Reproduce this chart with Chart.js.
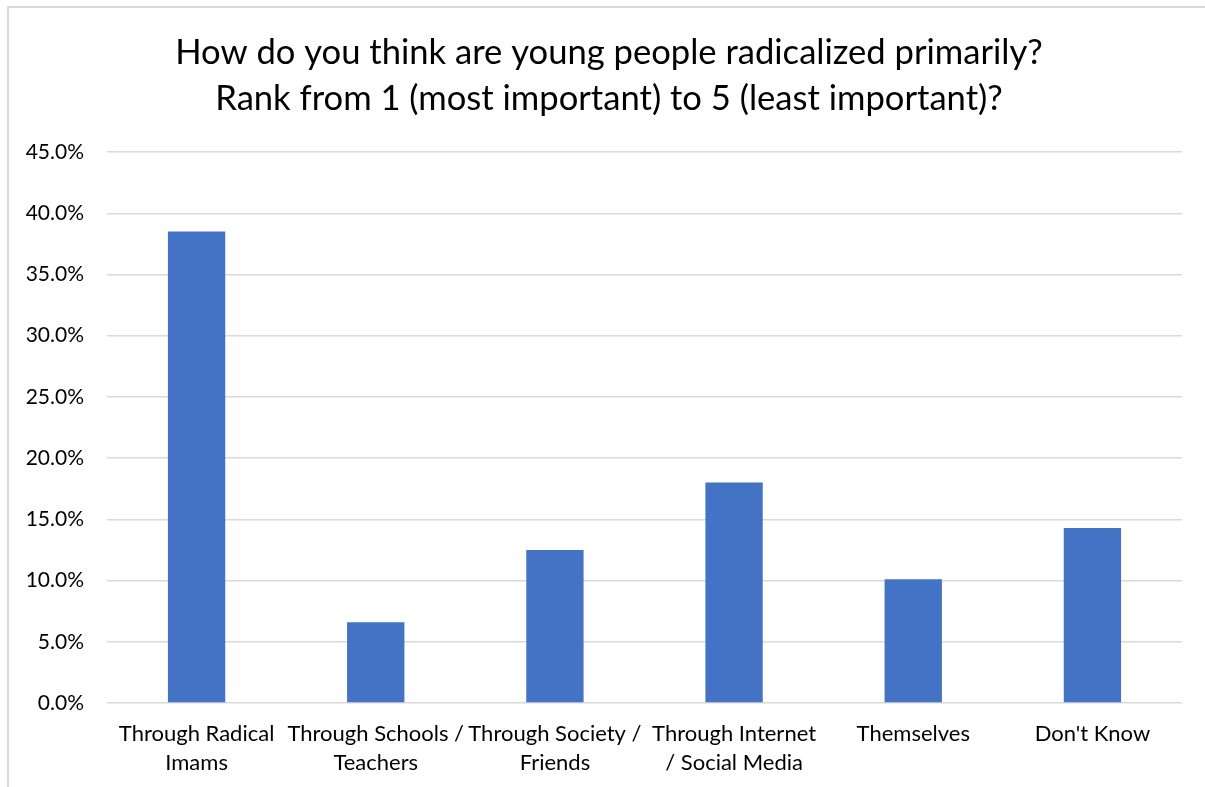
<!DOCTYPE html>
<html>
<head>
  <title>Radicalization survey</title>
  <script src="https://cdn.jsdelivr.net/npm/chart.js"></script>
  <style>
    body {
      margin: 0;
      overflow: hidden;
      background: #fff;
    }
    #frame {
      position: absolute;
      left: 7px;
      top: 6px;
      width: 1300px;
      height: 900px;
      border: 2px solid #d9d9d9;
      pointer-events: none;
    }
    canvas {
      position: absolute;
      left: 0;
      top: 0;
    }
  </style>
</head>
<body>
  <canvas id="ranking" width="1205" height="787"></canvas>
  <div id="frame"></div>

  <script>
    const categories = [
      ['Through Radical', 'Imams'],
      ['Through Schools /', 'Teachers'],
      ['Through Society /', 'Friends'],
      ['Through Internet', '/ Social Media'],
      'Themselves',
      "Don't Know"
    ];
    const shares = [38.5, 6.6, 12.5, 18.0, 10.1, 14.3];
    const titleLines = [
      'How do you think are young people radicalized primarily?',
      'Rank from 1 (most important) to 5 (least important)?'
    ];
    const yMin = 0, yMax = 45, yStep = 5;

    const font = 'Lato, "Open Sans", sans-serif';

    // y tick labels sit partly left of the axis box; widen its clip area
    const unclipTicks = {
      id: 'unclipTicks',
      afterLayout(chart) {
        chart.scales.y.left = 0;
      }
    };

    new Chart(document.getElementById('ranking').getContext('2d'), {
      type: 'bar',
      data: {
        labels: categories,
        datasets: [{
          label: 'Share',
          data: shares,
          backgroundColor: '#4472c4',
          categoryPercentage: 1,
          barPercentage: 0.32
        }]
      },
      plugins: [unclipTicks],
      options: {
        responsive: false,
        animation: false,
        layout: {
          padding: { left: 36, right: 23, top: 0, bottom: 0 }
        },
        plugins: {
          legend: { display: false },
          tooltip: { enabled: false },
          title: {
            display: true,
            text: titleLines,
            color: '#000',
            font: { family: font, size: 34.6, weight: 'normal', lineHeight: 1.33 },
            padding: { top: 30, bottom: 30 }
          }
        },
        scales: {
          x: {
            grid: { display: false },
            border: { display: false },
            ticks: {
              color: '#000',
              font: { family: font, size: 22, lineHeight: 1.32 },
              padding: 8,
              autoSkip: false,
              maxRotation: 0
            },
            afterFit: function (scale) { scale.height = 84; }
          },
          y: {
            min: yMin,
            max: yMax,
            grid: { color: '#d9d9d9', lineWidth: 1.5, drawTicks: false },
            border: { display: false },
            ticks: {
              stepSize: yStep,
              color: '#000',
              font: { family: font, size: 21 },
              padding: 23,
              callback: v => v.toFixed(1) + '%'
            },
            afterFit: function (scale) { scale.width = 71; }
          }
        }
      }
    });
  </script>
</body>
</html>
